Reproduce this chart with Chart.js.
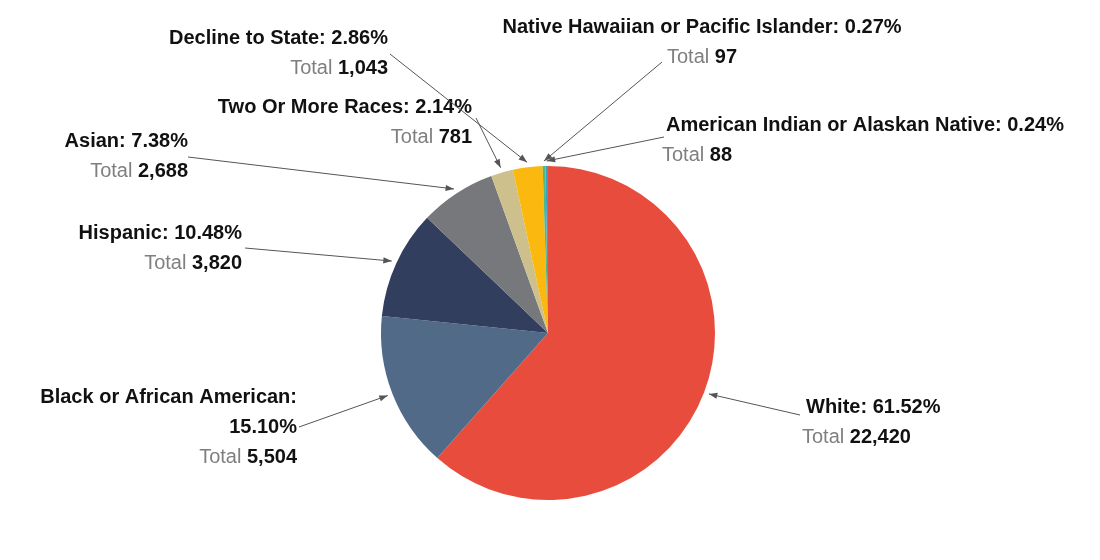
<!DOCTYPE html>
<html><head><meta charset="utf-8">
<script src="https://cdn.jsdelivr.net/npm/chart.js@4/dist/chart.umd.min.js"></script>
<style>html,body{margin:0;padding:0;background:#fff}#c{display:block}</style>
</head><body>
<div style="width:1100px;height:560px"><canvas id="c" width="1100" height="560"></canvas></div>
<script>
const categories = ["White","Black or African American","Hispanic","Asian","Two Or More Races","Decline to State","Native Hawaiian or Pacific Islander","American Indian or Alaskan Native"];
const percents = [61.52,15.10,10.48,7.38,2.14,2.86,0.27,0.24];
const totals = ["22,420","5,504","3,820","2,688","781","1,043","97","88"];
const colors = ["#e84c3d","#506a88","#323e5e","#77787c","#cdc08c","#fbb80f","#4db88a","#3a9fc0"];
// label layout: lines anchor x, align, first-line y, arrow start
const labelLayout = [
  {x:806,align:"left",lines:["White: 61.52%"],y:407,ax:800,ay:415},
  {x:297,align:"right",lines:["Black or African American:","15.10%"],y:397,ax:299,ay:427},
  {x:242,align:"right",lines:["Hispanic: 10.48%"],y:233,ax:245,ay:248},
  {x:188,align:"right",lines:["Asian: 7.38%"],y:141,ax:188,ay:157},
  {x:472,align:"right",lines:["Two Or More Races: 2.14%"],y:107,ax:476,ay:118},
  {x:388,align:"right",lines:["Decline to State: 2.86%"],y:38,ax:390,ay:54},
  {x:702,align:"center",lines:["Native Hawaiian or Pacific Islander: 0.27%"],y:27,ax:662,ay:62},
  {x:666,align:"left",lines:["American Indian or Alaskan Native: 0.24%"],y:125,ax:664,ay:137}
];
const FONT = "'Liberation Sans Narrow','Arial Narrow','Liberation Sans',sans-serif";
const labelPlugin = {
  id:'labels',
  afterDraw(chart){
    const ctx = chart.ctx;
    const meta = chart.getDatasetMeta(0);
    meta.data.forEach((arc,i)=>{
      const L = labelLayout[i];
      const mid = (arc.startAngle+arc.endAngle)/2;
      const r = arc.outerRadius+5;
      const ex = arc.x+Math.cos(mid)*r, ey = arc.y+Math.sin(mid)*r;
      ctx.save();
      ctx.textBaseline='middle';
      ctx.fillStyle='#111';
      ctx.font='bold 20px '+FONT;
      ctx.textAlign=L.align;
      let y=L.y;
      L.lines.forEach(t=>{ctx.fillText(t,L.x,y); y+=30;});
      // total line
      ctx.font='20px '+FONT; const w1=ctx.measureText('Total ').width;
      ctx.font='bold 20px '+FONT; const w2=ctx.measureText(totals[i]).width;
      let sx = L.align==='left'?L.x-4:(L.align==='right'?L.x-w1-w2:L.x-(w1+w2)/2);
      ctx.textAlign='left';
      ctx.font='20px '+FONT; ctx.fillStyle='#7f7f7f'; ctx.fillText('Total ',sx,y);
      ctx.font='bold 20px '+FONT; ctx.fillStyle='#111'; ctx.fillText(totals[i],sx+w1,y);
      // arrow
      ctx.strokeStyle='#555'; ctx.fillStyle='#555'; ctx.lineWidth=1;
      ctx.beginPath(); ctx.moveTo(L.ax,L.ay); ctx.lineTo(ex,ey); ctx.stroke();
      const ang=Math.atan2(ey-L.ay,ex-L.ax);
      ctx.beginPath(); ctx.moveTo(ex,ey);
      ctx.lineTo(ex-9*Math.cos(ang-0.35),ey-9*Math.sin(ang-0.35));
      ctx.lineTo(ex-9*Math.cos(ang+0.35),ey-9*Math.sin(ang+0.35));
      ctx.closePath(); ctx.fill();
      ctx.restore();
    });
  }
};
new Chart(document.getElementById('c'),{
  type:'pie',
  data:{labels:categories,datasets:[{data:percents,backgroundColor:colors,borderWidth:0}]},
  options:{responsive:false,animation:false,
    layout:{padding:{top:166,bottom:60,left:381,right:385}},
    plugins:{legend:{display:false},tooltip:{enabled:false}}},
  plugins:[labelPlugin]
});
</script>
</body></html>
